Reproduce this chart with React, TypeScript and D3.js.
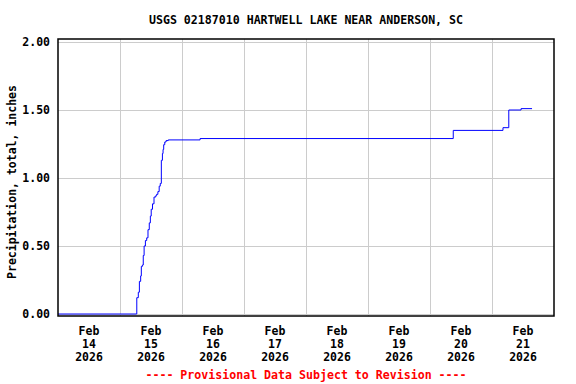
import { useEffect, useRef } from "react";
import * as d3 from "d3";

// cumulative precipitation, inches (UTC times)
const times = [
  "2026-02-14T00:00", "2026-02-15T06:20", "2026-02-15T06:30", "2026-02-15T07:05",
  "2026-02-15T07:30", "2026-02-15T08:00", "2026-02-15T08:15", "2026-02-15T08:40",
  "2026-02-15T09:00", "2026-02-15T09:20", "2026-02-15T09:50", "2026-02-15T10:20",
  "2026-02-15T10:50", "2026-02-15T11:20", "2026-02-15T11:45", "2026-02-15T12:05",
  "2026-02-15T12:35", "2026-02-15T13:10", "2026-02-15T13:50", "2026-02-15T14:10",
  "2026-02-15T14:40", "2026-02-15T15:10", "2026-02-15T15:35", "2026-02-15T16:00",
  "2026-02-15T16:25", "2026-02-15T16:40", "2026-02-15T16:55", "2026-02-15T17:20",
  "2026-02-15T17:50", "2026-02-15T18:40", "2026-02-16T07:00", "2026-02-20T09:00",
  "2026-02-21T04:15", "2026-02-21T06:30", "2026-02-21T11:15", "2026-02-21T15:30",
];
const values = [
  0.0, 0.0, 0.12, 0.16,
  0.24, 0.28, 0.35, 0.36,
  0.43, 0.5, 0.54, 0.56,
  0.62, 0.67, 0.72, 0.77,
  0.81, 0.86, 0.87, 0.88,
  0.9, 0.94, 0.96, 1.13,
  1.18, 1.21, 1.245, 1.265,
  1.275, 1.28, 1.29, 1.35,
  1.37, 1.5, 1.51, 1.51,
];
const dayTicks = ["2026-02-14", "2026-02-15", "2026-02-16", "2026-02-17", "2026-02-18", "2026-02-19", "2026-02-20", "2026-02-21"];
const yTicks = [0, 0.5, 1.0, 1.5, 2.0];

const W = 576;
const H = 384;
const FONT = "'DejaVu Sans Mono', monospace";

export default function App() {
  const ref = useRef<SVGSVGElement>(null);

  useEffect(() => {
    const svg = d3.select(ref.current);
    svg.selectAll("*").remove();

    const left = 58, right = 554, top = 39, bottom = 316;
    const parse = d3.utcParse("%Y-%m-%dT%H:%M");
    const pday = d3.utcParse("%Y-%m-%d");
    const data = times.map((t, i) => ({ date: parse(t), value: values[i] }));

    const x = d3.scaleUtc()
      .domain([pday("2026-02-14"), pday("2026-02-22")])
      .range([left, right]);
    const y = d3.scaleLinear().domain([0, 2]).range([314, 42]);

    svg.append("rect").attr("width", W).attr("height", H).attr("fill", "#fff");

    // grid
    const grid = svg.append("g").attr("stroke", "#cccccc").attr("stroke-width", 1);
    yTicks.forEach((v) => {
      grid.append("line")
        .attr("x1", left).attr("x2", right)
        .attr("y1", Math.round(y(v)) + 0.5).attr("y2", Math.round(y(v)) + 0.5);
    });
    dayTicks.slice(1).forEach((d) => {
      const xx = Math.round(x(pday(d))) + 0.5;
      grid.append("line").attr("x1", xx).attr("x2", xx).attr("y1", top).attr("y2", bottom);
    });

    // line
    svg.append("path")
      .datum(data)
      .attr("fill", "none")
      .attr("stroke", "#0000ff")
      .attr("stroke-width", 1)
      .attr("d", d3.line().x((d) => x(d.date)).y((d) => y(d.value)).curve(d3.curveStepAfter));

    // frame
    svg.append("rect")
      .attr("x", left).attr("y", top)
      .attr("width", right - left).attr("height", bottom - top)
      .attr("fill", "none").attr("stroke", "#000").attr("stroke-width", 1.5);

    // y tick labels
    svg.append("g").selectAll("text").data(yTicks).join("text")
      .attr("x", 50).attr("y", (d) => y(d) + 4)
      .attr("text-anchor", "end")
      .attr("font-family", FONT).attr("font-weight", "bold").attr("font-size", 11.5)
      .text((d) => d3.format(".2f")(d));

    // x tick labels, centred at noon
    const xl = svg.append("g").selectAll("g").data(dayTicks).join("g")
      .attr("transform", (d) => `translate(${x(d3.utcHour.offset(pday(d), 12))},0)`);
    const fmts = [d3.utcFormat("%b"), d3.utcFormat("%d"), d3.utcFormat("%Y")];
    fmts.forEach((f, i) => {
      xl.append("text")
        .attr("y", 335 + i * 13)
        .attr("text-anchor", "middle")
        .attr("font-family", FONT).attr("font-weight", "bold").attr("font-size", 11.5)
        .text((d) => f(pday(d)));
    });

    // title
    svg.append("text")
      .attr("x", (left + right) / 2).attr("y", 24)
      .attr("text-anchor", "middle")
      .attr("font-family", FONT).attr("font-weight", "bold").attr("font-size", 11.6)
      .text("USGS 02187010 HARTWELL LAKE NEAR ANDERSON, SC");

    // y label
    svg.append("text")
      .attr("transform", `translate(16,${182}) rotate(-90)`)
      .attr("text-anchor", "middle")
      .attr("font-family", FONT).attr("font-weight", "bold").attr("font-size", 11.5)
      .text("Precipitation, total, inches");

    // footer
    svg.append("text")
      .attr("x", (left + right) / 2).attr("y", 379)
      .attr("text-anchor", "middle")
      .attr("fill", "#ff0000")
      .attr("font-family", FONT).attr("font-weight", "bold").attr("font-size", 11.6)
      .text("---- Provisional Data Subject to Revision ----");
  }, []);

  return (
    <svg
      ref={ref}
      width={W}
      height={H}
      style={{ position: "absolute", left: 0, top: 0, display: "block" }}
    />
  );
}
